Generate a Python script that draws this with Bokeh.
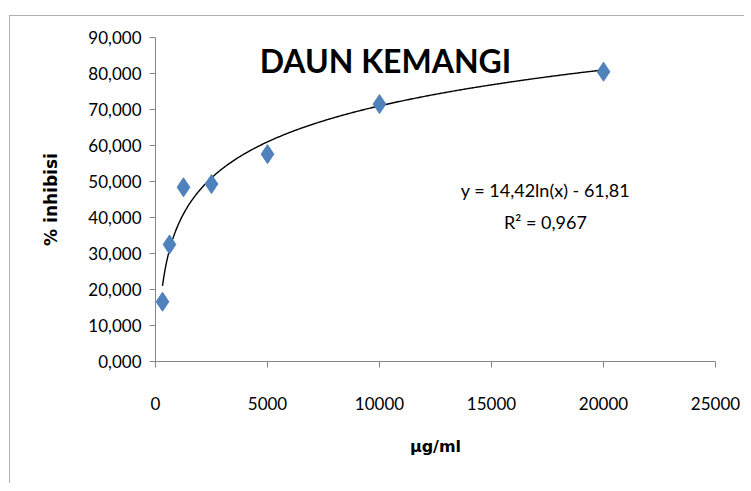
import numpy as np
from bokeh.plotting import figure
from bokeh.models import Range1d, FixedTicker, CustomJSTickFormatter, Label
from bokeh.embed import file_html
from bokeh.resources import INLINE

# data
conc = [312.5, 625, 1250, 2500, 5000, 10000, 20000]
inhib = [16.6, 32.5, 48.4, 49.3, 57.6, 71.5, 80.5]
fit_a = 14.42
fit_b = -61.81
x_ticks = [0, 5000, 10000, 15000, 20000, 25000]
y_ticks = [0, 10, 20, 30, 40, 50, 60, 70, 80, 90]
title_text = "DAUN KEMANGI"
eq_text = "y = 14,42ln(x) - 61,81"
r2_text = "R² = 0,967"

FONT = "Lato"

p = figure(width=735, height=468, output_backend="svg", toolbar_location=None,
           x_range=Range1d(0, 25000), y_range=Range1d(0, 90),
           min_border_left=145, min_border_right=30, min_border_top=21, min_border_bottom=123)
p.styles = {"border-left": "1px solid #b0b0b0", "border-top": "1px solid #b0b0b0",
            "margin-left": "9px", "margin-top": "15px"}
p.outline_line_color = None
p.xgrid.visible = False
p.ygrid.visible = False
p.background_fill_color = "white"

# trendline from the stated equation
xs = np.linspace(min(conc), max(conc), 400)
ys = fit_a * np.log(xs) + fit_b
p.line(xs, ys, line_color="black", line_width=1.4)

p.scatter(conc, inhib, marker="diamond", size=19, fill_color="#4F81BD", line_color="#4F81BD")

for ax in (p.xaxis[0], p.yaxis[0]):
    ax.axis_line_color = "#868686"
    ax.major_tick_line_color = "#868686"
    ax.minor_tick_line_color = None
    ax.major_tick_in = 0
    ax.major_tick_out = 6
    ax.major_label_text_font = FONT
    ax.major_label_text_font_size = "17px"
    ax.major_label_text_color = "black"
    ax.axis_label_text_font = "DejaVu Sans"
    ax.axis_label_text_font_style = "bold"
    ax.axis_label_text_color = "black"

p.xaxis.axis_label_text_font_size = "16px"
p.yaxis.axis_label_text_font_size = "17px"
p.xaxis.ticker = FixedTicker(ticks=x_ticks)
p.yaxis.ticker = FixedTicker(ticks=y_ticks)
p.xaxis.formatter = CustomJSTickFormatter(code="return tick.toFixed(0);")
p.yaxis.formatter = CustomJSTickFormatter(code="return tick.toFixed(3).replace('.', ',');")
p.xaxis.major_label_standoff = 29
p.yaxis.major_label_standoff = 8
p.xaxis.axis_label = "µg/ml"
p.yaxis.axis_label = "% inhibisi"
p.xaxis.axis_label_standoff = 24
p.yaxis.axis_label_standoff = 24

p.add_layout(Label(x=10268, y=83.6, text=title_text, text_font=FONT, text_font_style="bold",
                   text_font_size="32px", text_align="center", text_baseline="middle", text_color="black"))
p.add_layout(Label(x=17410, y=47.6, text=eq_text, text_font=FONT,
                   text_font_size="18px", text_align="center", text_baseline="middle", text_color="black"))
p.add_layout(Label(x=17410, y=38.8, text=r2_text, text_font=FONT,
                   text_font_size="18px", text_align="center", text_baseline="middle", text_color="black"))

open("out.html", "w").write(file_html(p, INLINE))
